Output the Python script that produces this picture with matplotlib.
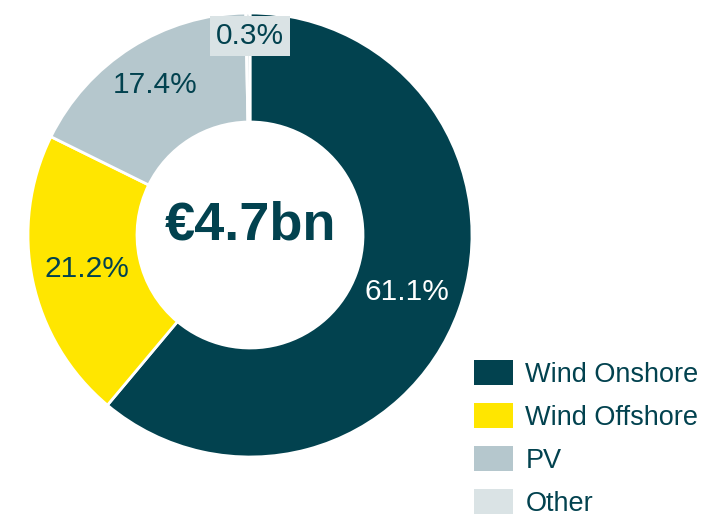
import numpy as np
import matplotlib.pyplot as plt

plt.rcParams['font.family'] = ['Liberation Sans', 'DejaVu Sans']

# data
categories = ["Wind Onshore", "Wind Offshore", "PV", "Other"]
shares = [61.1, 21.2, 17.4, 0.3]
colors = ["#02424F", "#FFE600", "#B5C7CD", "#DAE3E5"]
label_colors = ["white", "#02424F", "#02424F", "#02424F"]
total_label = "€4.7bn"

W, H = 725, 517
fig = plt.figure(figsize=(W / 100, H / 100), dpi=100)
ax = fig.add_axes([0, 0, 1, 1])

cx, cy, R = 250, H - 235, 222
wedges, _ = ax.pie(shares, colors=colors, startangle=90, counterclock=False,
                   center=(cx, cy), radius=R, frame=True,
                   wedgeprops=dict(width=R - 113, edgecolor="white", linewidth=2))
ax.set_xlim(0, W)
ax.set_ylim(0, H)
ax.set_aspect("equal")
ax.axis("off")

for i, (v, w) in enumerate(zip(shares, wedges)):
    mid = np.deg2rad((w.theta1 + w.theta2) / 2)
    r = 0.75 * R
    txt = f"{v:.1f}%"
    if categories[i] == "Other":
        ax.text(cx, H - 36, txt, ha="center", va="center",
                fontsize=21.5, color=label_colors[i],
                bbox=dict(facecolor=colors[i], edgecolor="none", pad=4))
        continue
    if categories[i] == "PV":
        r = 0.8 * R
    ax.text(cx + r * np.cos(mid), cy + r * np.sin(mid), txt, ha="center", va="center",
            fontsize=21.5, color=label_colors[i])

ax.text(cx, H - 226, total_label, ha="center", va="center", fontsize=39,
        fontweight="bold", color="#02424F")

leg = fig.legend(wedges, categories, loc="upper left", bbox_to_anchor=(463 / W, 1 - 349 / H),
                 frameon=False, fontsize=19.5, handlelength=1.45, handleheight=1.05,
                 handletextpad=0.45, labelspacing=0.56, borderaxespad=0)
for t in leg.get_texts():
    t.set_color("#02424F")
for h in leg.legend_handles:
    h.set_edgecolor("none")

plt.savefig("out.png", dpi=100)
